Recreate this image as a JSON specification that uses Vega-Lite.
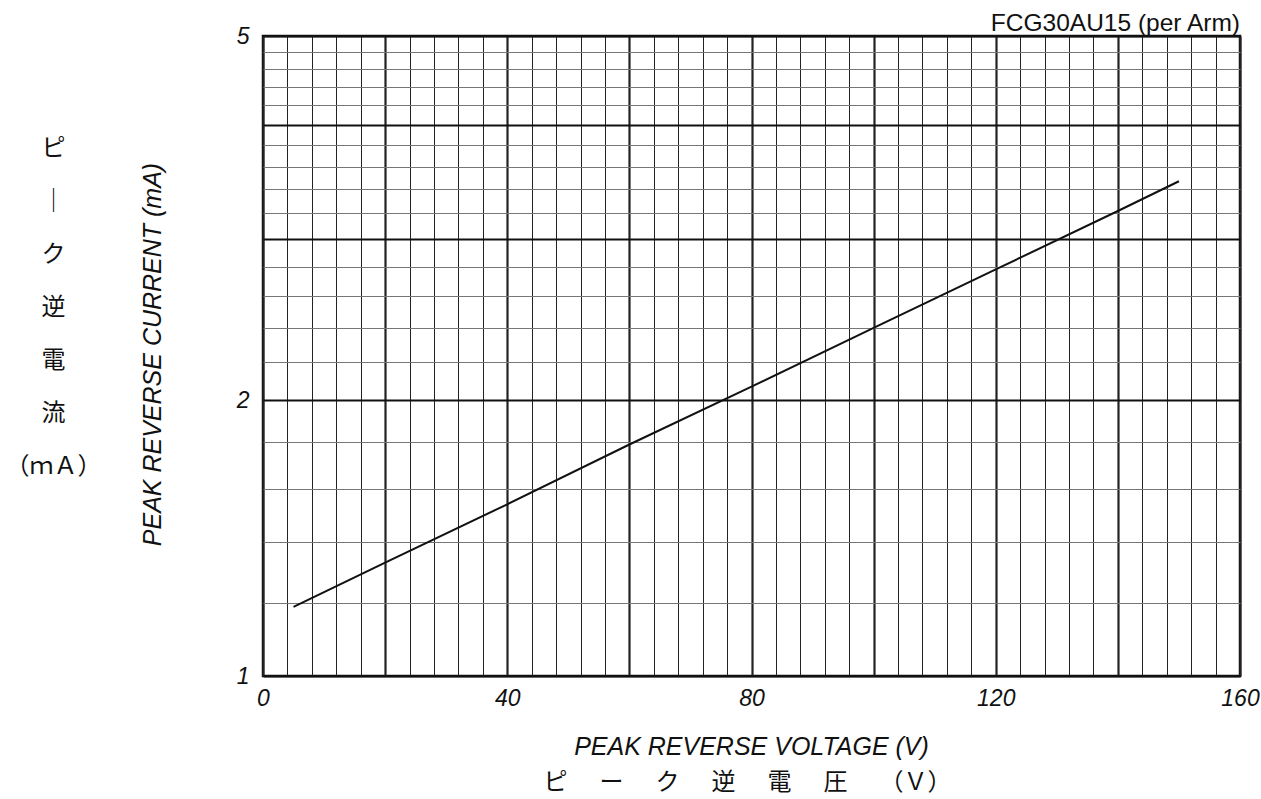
{
  "$schema": "https://vega.github.io/schema/vega-lite/v6.json",
  "autosize": {"type": "none"},
  "padding": {"left": 263, "top": 36, "right": 21, "bottom": 123},
  "width": 977,
  "height": 640,
  "background": "white",
  "title": {
    "text": "FCG30AU15 (per Arm)",
    "anchor": "end",
    "frame": "group",
    "orient": "top",
    "font": "Liberation Sans",
    "fontSize": 24.5,
    "fontWeight": "normal",
    "color": "#111",
    "baseline": "alphabetic",
    "offset": -30
  },
  "data": {
    "values": [
      {"voltage": 5, "current": 1.19},
      {"voltage": 20, "current": 1.33},
      {"voltage": 40, "current": 1.54},
      {"voltage": 60, "current": 1.79},
      {"voltage": 80, "current": 2.07},
      {"voltage": 100, "current": 2.40},
      {"voltage": 120, "current": 2.78},
      {"voltage": 140, "current": 3.22},
      {"voltage": 150, "current": 3.47}
    ]
  },
  "config": {
    "view": {"stroke": "#111", "strokeWidth": 2.5},
    "axis": {
      "labelFont": "Liberation Sans",
      "titleFont": "Liberation Sans",
      "labelColor": "#111",
      "titleColor": "#111",
      "domain": false
    }
  },
  "layer": [
    {
      "mark": {"type": "line", "color": "#111", "strokeWidth": 2},
      "encoding": {
        "x": {
          "field": "voltage",
          "type": "quantitative",
          "scale": {"domain": [0, 160], "nice": false, "zero": false},
          "axis": {
            "orient": "bottom",
            "values": [0,4,8,12,16,20,24,28,32,36,40,44,48,52,56,60,64,68,72,76,80,84,88,92,96,100,104,108,112,116,120,124,128,132,136,140,144,148,152,156,160],
            "labelExpr": "datum.value % 40 === 0 ? datum.label : ''",
            "labelFontSize": 23,
            "labelFontStyle": "italic",
            "labelPadding": 11,
            "labelFlush": false,
            "labelOverlap": false,
            "ticks": false,
            "tickSize": 0,
            "grid": true,
            "gridColor": "#222",
            "gridOpacity": 1,
            "gridWidth": {"condition": {"test": "datum.value % 20 === 0", "value": 2.2}, "value": 1},
            "title": "PEAK REVERSE VOLTAGE (V)",
            "titleFontSize": 25,
            "titleFontStyle": "italic",
            "titleFontWeight": "normal",
            "titleX": 488,
            "titleY": 70,
            "titleBaseline": "middle",
            "titleAlign": "center"
          }
        },
        "y": {
          "field": "current",
          "type": "quantitative",
          "scale": {"type": "log", "domain": [1, 5], "nice": false},
          "axis": {
            "orient": "left",
            "values": [1,1.2,1.4,1.6,1.8,2,2.2,2.4,2.6,2.8,3,3.2,3.4,3.6,3.8,4,4.2,4.4,4.6,4.8,5],
            "labelExpr": "(datum.value === 1 || datum.value === 2 || datum.value === 5) ? datum.value : ''",
            "labelFontSize": 23,
            "labelFontStyle": "italic",
            "labelPadding": 14,
            "labelBaseline": "middle",
            "labelOverlap": false,
            "labelFlush": false,
            "ticks": false,
            "tickSize": 0,
            "grid": true,
            "gridColor": {"condition": {"test": "abs(datum.value - round(datum.value)) < 0.001", "value": "#111"}, "value": "#777"},
            "gridOpacity": 1,
            "gridWidth": {"condition": {"test": "abs(datum.value - round(datum.value)) < 0.001", "value": 2.2}, "value": 1},
            "title": "PEAK REVERSE CURRENT (mA)",
            "titleFontSize": 25,
            "titleFontStyle": "italic",
            "titleFontWeight": "normal",
            "titleAngle": 270,
            "titleX": -111,
            "titleY": 318,
            "titleBaseline": "middle",
            "titleAlign": "center"
          }
        }
      }
    },
    {
      "mark": {"type": "line", "opacity": 0},
      "encoding": {
        "x": {
          "field": "voltage",
          "type": "quantitative",
          "axis": {
            "orient": "bottom",
            "labels": false,
            "ticks": false,
            "grid": false,
            "domain": false,
            "title": "ピ　\u2004ー　\u2004ク　\u2004逆　\u2004電　\u2004圧　\u2004（Ｖ）",
            "titleFont": "Noto Sans CJK JP",
            "titleFontSize": 24,
            "titleFontStyle": "normal",
            "titleFontWeight": "normal",
            "titleX": 484,
            "titleY": 106,
            "titleBaseline": "middle",
            "titleAlign": "center"
          }
        },
        "y": {
          "field": "current",
          "type": "quantitative",
          "axis": {
            "orient": "left",
            "labels": false,
            "ticks": false,
            "grid": false,
            "domain": false,
            "title": ["ピ", "｜", "ク", "逆", "電", "流", "（ｍＡ）"],
            "titleFont": "Noto Sans CJK JP",
            "titleFontSize": 24,
            "titleFontStyle": "normal",
            "titleFontWeight": "normal",
            "titleLineHeight": 53,
            "titleAngle": 0,
            "titleX": -210,
            "titleY": 100,
            "titleBaseline": "top",
            "titleAlign": "center"
          }
        }
      }
    }
  ],
  "resolve": {"axis": {"x": "independent", "y": "independent"}}
}
